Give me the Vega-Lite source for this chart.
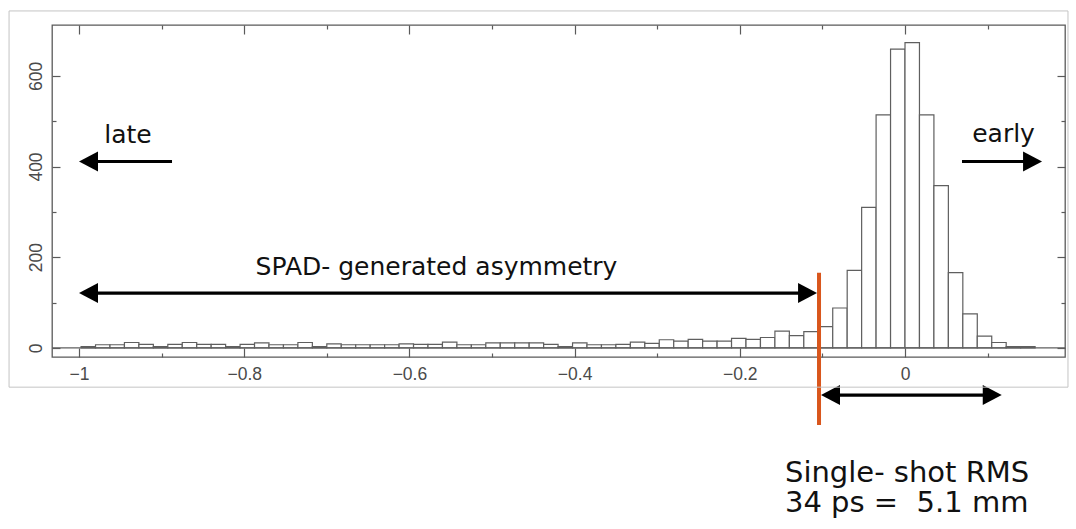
{
  "$schema": "https://vega.github.io/schema/vega-lite/v6.json",
  "autosize": {"type": "none"},
  "padding": {"left": 52, "top": 25, "right": 11, "bottom": 172},
  "width": 1013,
  "height": 332,
  "background": "white",
  "config": {
    "view": {"stroke": "#5a5a5a", "strokeWidth": 1.3},
    "axis": {
      "grid": false,
      "domain": false,
      "title": null,
      "tickColor": "#5a5a5a",
      "tickWidth": 1.2,
      "labelFont": "Liberation Sans",
      "labelFontSize": 17.5,
      "labelColor": "#4a4a4a",
      "labelOverlap": false,
      "labelFlush": false
    },
    "text": {"font": "DejaVu Sans", "color": "#111111"}
  },
  "datasets": {
    "bins": [
      {"start": -0.9975, "end": -0.98, "count": 3},
      {"start": -0.98, "end": -0.9625, "count": 7},
      {"start": -0.9625, "end": -0.945, "count": 7},
      {"start": -0.945, "end": -0.9275, "count": 12},
      {"start": -0.9275, "end": -0.91, "count": 8},
      {"start": -0.91, "end": -0.8925, "count": 3},
      {"start": -0.8925, "end": -0.875, "count": 8},
      {"start": -0.875, "end": -0.8575, "count": 12},
      {"start": -0.8575, "end": -0.84, "count": 8},
      {"start": -0.84, "end": -0.8225, "count": 8},
      {"start": -0.8225, "end": -0.805, "count": 3},
      {"start": -0.805, "end": -0.7875, "count": 8},
      {"start": -0.7875, "end": -0.77, "count": 11},
      {"start": -0.77, "end": -0.7525, "count": 7},
      {"start": -0.7525, "end": -0.735, "count": 7},
      {"start": -0.735, "end": -0.7175, "count": 12},
      {"start": -0.7175, "end": -0.7, "count": 3},
      {"start": -0.7, "end": -0.6825, "count": 9},
      {"start": -0.6825, "end": -0.665, "count": 7},
      {"start": -0.665, "end": -0.6475, "count": 7},
      {"start": -0.6475, "end": -0.63, "count": 7},
      {"start": -0.63, "end": -0.6125, "count": 7},
      {"start": -0.6125, "end": -0.595, "count": 9},
      {"start": -0.595, "end": -0.5775, "count": 8},
      {"start": -0.5775, "end": -0.56, "count": 8},
      {"start": -0.56, "end": -0.5425, "count": 13},
      {"start": -0.5425, "end": -0.525, "count": 7},
      {"start": -0.525, "end": -0.5075, "count": 7},
      {"start": -0.5075, "end": -0.49, "count": 11},
      {"start": -0.49, "end": -0.4725, "count": 11},
      {"start": -0.4725, "end": -0.455, "count": 11},
      {"start": -0.455, "end": -0.4375, "count": 11},
      {"start": -0.4375, "end": -0.42, "count": 8},
      {"start": -0.42, "end": -0.4025, "count": 3},
      {"start": -0.4025, "end": -0.385, "count": 11},
      {"start": -0.385, "end": -0.3675, "count": 7},
      {"start": -0.3675, "end": -0.35, "count": 7},
      {"start": -0.35, "end": -0.3325, "count": 8},
      {"start": -0.3325, "end": -0.315, "count": 13},
      {"start": -0.315, "end": -0.2975, "count": 10},
      {"start": -0.2975, "end": -0.28, "count": 18},
      {"start": -0.28, "end": -0.2625, "count": 15},
      {"start": -0.2625, "end": -0.245, "count": 19},
      {"start": -0.245, "end": -0.2275, "count": 15},
      {"start": -0.2275, "end": -0.21, "count": 15},
      {"start": -0.21, "end": -0.1925, "count": 21},
      {"start": -0.1925, "end": -0.175, "count": 19},
      {"start": -0.175, "end": -0.1575, "count": 23},
      {"start": -0.1575, "end": -0.14, "count": 37},
      {"start": -0.14, "end": -0.1225, "count": 27},
      {"start": -0.1225, "end": -0.105, "count": 36},
      {"start": -0.105, "end": -0.0875, "count": 47},
      {"start": -0.0875, "end": -0.07, "count": 88},
      {"start": -0.07, "end": -0.0525, "count": 171},
      {"start": -0.0525, "end": -0.035, "count": 310},
      {"start": -0.035, "end": -0.0175, "count": 514},
      {"start": -0.0175, "end": 0, "count": 659},
      {"start": 0, "end": 0.0175, "count": 673},
      {"start": 0.0175, "end": 0.035, "count": 514},
      {"start": 0.035, "end": 0.0525, "count": 358},
      {"start": 0.0525, "end": 0.07, "count": 166},
      {"start": 0.07, "end": 0.0875, "count": 75},
      {"start": 0.0875, "end": 0.105, "count": 26},
      {"start": 0.105, "end": 0.1225, "count": 12},
      {"start": 0.1225, "end": 0.14, "count": 3},
      {"start": 0.14, "end": 0.1575, "count": 3}
    ],
    "shafts": [
      {"x0": -0.9879, "x1": -0.8874, "y": 411},
      {"x0": 0.069, "x1": 0.1538, "y": 411},
      {"x0": -0.9879, "x1": -0.1186, "y": 121},
      {"x0": -0.0896, "x1": 0.105, "y": -104}
    ],
    "headsLeft": [
      {"x": -1.0, "y": 411},
      {"x": -1.0, "y": 121},
      {"x": -0.1017, "y": -104}
    ],
    "headsRight": [
      {"x": 0.1659, "y": 411},
      {"x": -0.1065, "y": 121},
      {"x": 0.1171, "y": -104}
    ],
    "labels": [
      {"x": -0.9407, "y": 452, "text": "late"},
      {"x": 0.1193, "y": 453, "text": "early"},
      {"x": -0.5672, "y": 161, "text": "SPAD- generated asymmetry"}
    ],
    "rmsNote": [
      {"x": -0.1453, "y": -296, "text": "Single- shot RMS\n34 ps = \u00a05.1 mm"}
    ]
  },
  "layer": [
    {
      "mark": {"type": "rect", "fill": "white", "stroke": "#5f5f5f", "strokeWidth": 1.2},
      "data": {"name": "bins"},
      "encoding": {
        "x": {
          "field": "start", "type": "quantitative",
          "scale": {"domain": [-1.0327, 0.1937], "nice": false, "zero": false},
          "axis": {
            "orient": "bottom",
            "values": [-1, -0.8, -0.6, -0.4, -0.2, 0],
            "tickSize": -9,
            "labelPadding": 17,
            "labelExpr": "format(datum.value, '~g')"
          }
        },
        "x2": {"field": "end"},
        "y": {
          "field": "count", "type": "quantitative",
          "scale": {"domain": [-20, 712], "nice": false, "zero": false},
          "axis": {
            "orient": "left",
            "values": [0, 200, 400, 600],
            "tickSize": -8,
            "labelAngle": 270,
            "labelAlign": "center",
            "labelBaseline": "alphabetic",
            "labelPadding": 19
          }
        },
        "y2": {"datum": 0}
      }
    },
    {
      "mark": {"type": "rule", "stroke": "#5f5f5f", "strokeWidth": 1.2},
      "data": {"values": [{}]},
      "encoding": {"y": {"datum": 0, "type": "quantitative", "axis": null}}
    },
    {
      "mark": {"type": "rule", "stroke": "#000000", "strokeWidth": 3.2},
      "data": {"name": "shafts"},
      "encoding": {
        "x": {
          "field": "x0", "type": "quantitative",
          "axis": {"orient": "bottom", "values": [-0.9, -0.7, -0.5, -0.3, -0.1, 0.1], "tickSize": -4, "labels": false}
        },
        "x2": {"field": "x1"},
        "y": {
          "field": "y", "type": "quantitative",
          "axis": {"orient": "left", "values": [100, 300, 500], "tickSize": -4, "labels": false}
        }
      }
    },
    {
      "mark": {"type": "point", "shape": "M0,0L1.9,-1L1.9,1Z", "size": 400, "filled": true, "color": "#000000", "opacity": 1},
      "data": {"name": "headsLeft"},
      "encoding": {
        "x": {
          "field": "x", "type": "quantitative",
          "axis": {"orient": "top", "values": [-1, -0.8, -0.6, -0.4, -0.2, 0], "tickSize": -9, "labels": false}
        },
        "y": {
          "field": "y", "type": "quantitative",
          "axis": {"orient": "right", "values": [0, 200, 400, 600], "tickSize": -8, "labels": false}
        }
      }
    },
    {
      "mark": {"type": "point", "shape": "M0,0L-1.9,-1L-1.9,1Z", "size": 400, "filled": true, "color": "#000000", "opacity": 1},
      "data": {"name": "headsRight"},
      "encoding": {
        "x": {
          "field": "x", "type": "quantitative",
          "axis": {"orient": "top", "values": [-0.9, -0.7, -0.5, -0.3, -0.1, 0.1], "tickSize": -4, "labels": false}
        },
        "y": {
          "field": "y", "type": "quantitative",
          "axis": {"orient": "right", "values": [100, 300, 500], "tickSize": -4, "labels": false}
        }
      }
    },
    {
      "mark": {"type": "rule", "stroke": "#d9561c", "strokeWidth": 4},
      "data": {"values": [{}]},
      "encoding": {
        "x": {"datum": -0.1041, "type": "quantitative", "axis": null},
        "y": {"datum": 165.5, "type": "quantitative", "axis": null},
        "y2": {"datum": -170}
      }
    },
    {
      "mark": {"type": "text", "fontSize": 25, "align": "center", "baseline": "alphabetic"},
      "data": {"name": "labels"},
      "encoding": {
        "x": {"field": "x", "type": "quantitative", "axis": null},
        "y": {"field": "y", "type": "quantitative", "axis": null},
        "text": {"field": "text"}
      }
    },
    {
      "mark": {"type": "text", "fontSize": 29, "align": "left", "baseline": "alphabetic", "lineBreak": "\n", "lineHeight": 29.7},
      "data": {"name": "rmsNote"},
      "encoding": {
        "x": {"field": "x", "type": "quantitative", "axis": null},
        "y": {"field": "y", "type": "quantitative", "axis": null},
        "text": {"field": "text"}
      }
    },
    {
      "mark": {"type": "rect", "fillOpacity": 0, "stroke": "#c4c4c4", "strokeWidth": 1},
      "data": {"values": [{}]},
      "encoding": {
        "x": {"datum": -1.0847, "type": "quantitative", "axis": null},
        "x2": {"datum": 0.1973},
        "y": {"datum": 743, "type": "quantitative", "axis": null},
        "y2": {"datum": -86.5}
      }
    }
  ],
  "resolve": {"axis": {"x": "independent", "y": "independent"}}
}
